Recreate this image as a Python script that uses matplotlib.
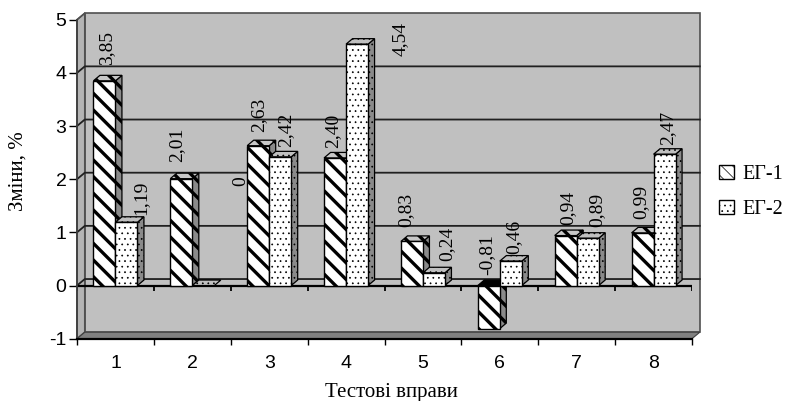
import matplotlib
matplotlib.use("Agg")
import matplotlib.pyplot as plt
from matplotlib.patches import Polygon, Patch

categories = ["1", "2", "3", "4", "5", "6", "7", "8"]
eg1 = [3.85, 2.01, 2.63, 2.40, 0.83, -0.81, 0.94, 0.99]
eg2 = [1.19, 0.00, 2.42, 4.54, 0.24, 0.46, 0.89, 2.47]
eg1_text = ["3,85", "2,01", "2,63", "2,40", "0,83", "-0,81", "0,94", "0,99"]
eg2_text = ["1,19", "0", "2,42", "4,54", "0,24", "0,46", "0,89", "2,47"]
# label offsets from bar top, pixels
eg1_off = [(2, 16), (-5, 17), (1, 14), (-2, 10), (-6, 14), (-2, 54), (2, 11), (-2, 14)]
eg2_off = [(14, 7), (37, 100), (6, 10), (43, -12), (13, 12), (3, 7), (9, 11), (3, 9)]

plt.rcParams["axes.unicode_minus"] = False
W, H = 786, 401
L, R, T, B = 77, 692, 19.7, 338.7
fig = plt.figure(figsize=(W / 100, H / 100), dpi=100)
ax = fig.add_axes([L / W, 1 - B / H, (R - L) / W, (B - T) / H])
ax.set_xlim(0.5, 8.5)
ax.set_ylim(-1, 5)
ux = (R - L) / 8
uy = (B - T) / 6
wx, wy = 7.8 / ux, 6.5 / uy      # wall depth
dx, dy = 6.5 / ux, 5.5 / uy      # bar depth
bw = 22 / ux

plt.rcParams["hatch.color"] = "#202020"


def poly(pts, **kw):
    p = Polygon(pts, closed=True, clip_on=False, **kw)
    ax.add_patch(p)
    return p


# walls
poly([(0.5 + wx, -1 + wy), (8.5 + wx, -1 + wy), (8.5 + wx, 5 + wy), (0.5 + wx, 5 + wy)],
     fc="#C0C0C0", ec="#505050", lw=1.2, zorder=1)
poly([(0.5, -1), (0.5 + wx, -1 + wy), (0.5 + wx, 5 + wy), (0.5, 5)],
     fc="#B4B4B4", ec="#505050", lw=1.2, zorder=1.1)
poly([(0.5, -1), (8.5, -1), (8.5 + wx, -1 + wy), (0.5 + wx, -1 + wy)],
     fc="#808080", ec="#404040", lw=0.8, zorder=1.1)
for g in [0, 1, 2, 3, 4]:
    ax.plot([0.5, 0.5 + wx, 8.5 + wx], [g, g + wy, g + wy], color="#202020", lw=1.3,
            zorder=1.2, clip_on=False)
ax.plot([0.5, 0.5 + wx], [5, 5 + wy], color="#505050", lw=1.0, zorder=1.2, clip_on=False)
ax.axhline(0, color="black", lw=1.6, zorder=1.3)
ax.vlines([0.5 + i for i in range(9)], -0.11, 0, color="black", lw=1.3, zorder=1.3)


def draw_bar(x0, v, hatch, hlw, z, side_fc, top_fc):
    plt.rcParams["hatch.linewidth"] = hlw
    top = max(v, 0)
    low = min(v, 0)
    if v != 0:
        poly([(x0 + bw, low), (x0 + bw + dx, low + dy), (x0 + bw + dx, top + dy), (x0 + bw, top)],
             fc=side_fc, ec="black", lw=0.9, hatch=hatch, zorder=z)
    poly([(x0, top), (x0 + bw, top), (x0 + bw + dx, top + dy), (x0 + dx, top + dy)],
         fc="black" if v < 0 else top_fc, ec="black", lw=0.9, hatch=None if v < 0 else hatch, zorder=z)
    if v != 0:
        ax.bar(x0, v, width=bw, align="edge", color="white", edgecolor="black", lw=1.0,
               hatch=hatch, zorder=z + 0.1, clip_on=False)


for i, (a, b) in enumerate(zip(eg1, eg2)):
    x = i + 1
    draw_bar(x - bw, a, "\\\\", 2.4, 3 + i * 0.1, "#8A8A8A", "#C8C8C8")
    draw_bar(x, b, "...", 0.5, 3.05 + i * 0.1, "#8A8A8A", "#C0C0C0")

sf = {"family": "Liberation Serif"}
for i, (a, t, o) in enumerate(zip(eg1, eg1_text, eg1_off)):
    ax.annotate(t, (i + 1 - bw / 2, a), xytext=o, textcoords="offset pixels", rotation=90,
                ha="center", va="bottom", fontsize=14, color="black", zorder=10,
                annotation_clip=False, **sf)
for i, (b, t, o) in enumerate(zip(eg2, eg2_text, eg2_off)):
    ax.annotate(t, (i + 1 + bw / 2, b), xytext=o, textcoords="offset pixels", rotation=90,
                ha="center", va="bottom", fontsize=14, color="black", zorder=10,
                annotation_clip=False, **sf)

for s in ["top", "right"]:
    ax.spines[s].set_visible(False)
ax.spines["left"].set_color("#404040")
ax.spines["left"].set_linewidth(1.3)
ax.spines["bottom"].set_linewidth(1.6)
ax.patch.set_alpha(0)
ax.set_yticks(range(-1, 6))
ax.tick_params(axis="y", length=5.5, width=1.0, pad=2, labelsize=14)
ax.set_xticks([0.5 + i for i in range(9)])
ax.set_xticklabels([])
ax.tick_params(axis="x", which="major", length=4.5, width=1.0)
ax.set_xticks(range(1, 9), minor=True)
ax.set_xticklabels(categories, minor=True, fontsize=14)
ax.tick_params(axis="x", which="minor", length=0, pad=12)
for lab in ax.get_xticklabels(minor=True) + ax.get_yticklabels():
    lab.set_family("Liberation Sans")

fig.text(18 / W, 1 - 171 / H, "Зміни, %", rotation=90, ha="center", va="center", fontsize=15, **sf)
fig.text(391 / W, 1 - 392 / H, "Тестові вправи", ha="center", va="center", fontsize=15, **sf)

plt.rcParams["hatch.linewidth"] = 1.6
h1 = Patch(fc="white", ec="black", lw=1.0, hatch="\\\\\\")
plt.rcParams["hatch.linewidth"] = 0.5
h2 = Patch(fc="white", ec="black", lw=1.0, hatch="...")
fig.legend([h1, h2], ["ЕГ-1", "ЕГ-2"], loc="center left", bbox_to_anchor=(719 / W, 1 - 192 / H),
           frameon=False, handlelength=0.72, handleheight=0.72, handletextpad=0.42,
           labelspacing=0.8, borderpad=0, borderaxespad=0, prop={"family": "Liberation Serif", "size": 14.5})

fig.savefig("out.png", dpi=100)
